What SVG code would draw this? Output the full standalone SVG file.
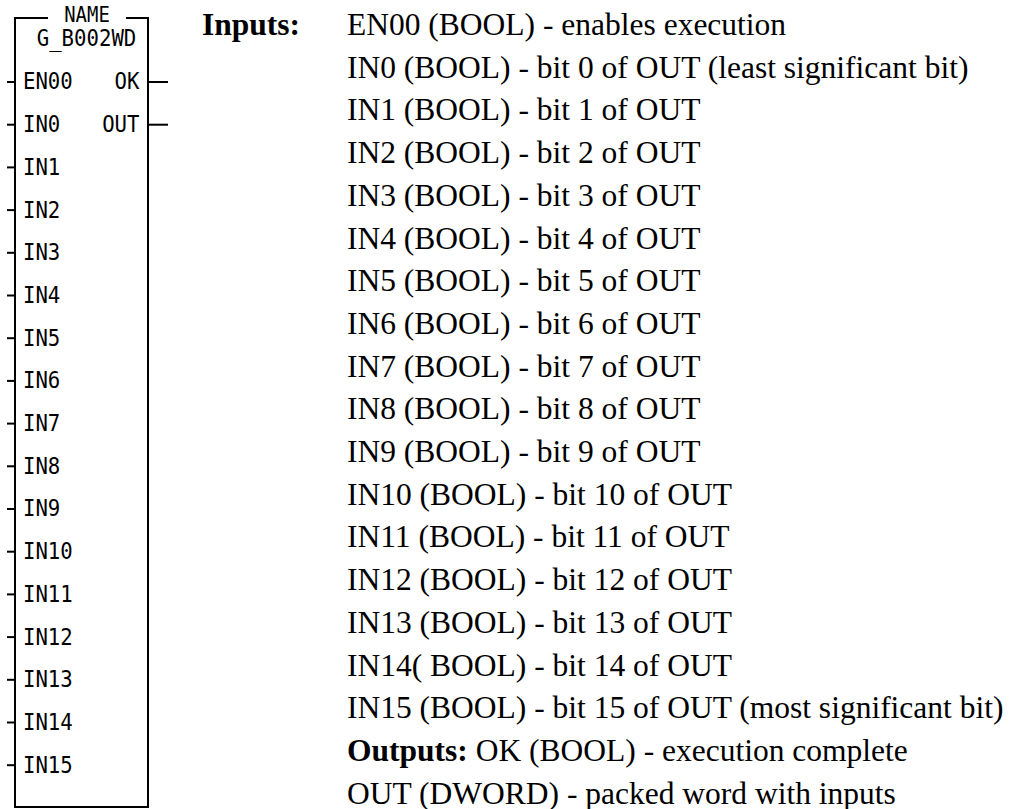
<svg xmlns="http://www.w3.org/2000/svg" width="1018" height="809" viewBox="0 0 1018 809">
  <style>
    .frame { fill: none; stroke: #000; stroke-width: 2; }
    .pin { stroke: #000; stroke-width: 2; }
    .mono { font-family: "DejaVu Sans Mono", "Liberation Mono", monospace; font-size: 23.5px; fill: #000; }
    .title { font-size: 21.5px; }
    .desc { font-family: "Liberation Serif", "Times New Roman", serif; font-size: 31.5px; fill: #000; }
    .bold { font-weight: bold; }
  </style>

  <!-- Function block G_B002WD; block labels are drawn narrowed to 88% width -->
  <g id="block-g_b002wd">
    <path class="frame" d="M48,18 H15 V807 H148 V18 H126"/>
    <g transform="scale(0.88,1)">
      <text class="mono title" x="98.9" y="22" text-anchor="middle">NAME</text>
      <text class="mono" x="98.3" y="46" text-anchor="middle">G_B002WD</text>
      <g id="inputs">
        <text class="mono" x="26.1" y="89.5">EN00</text>
        <text class="mono" x="26.1" y="132.2">IN0</text>
        <text class="mono" x="26.1" y="174.9">IN1</text>
        <text class="mono" x="26.1" y="217.6">IN2</text>
        <text class="mono" x="26.1" y="260.3">IN3</text>
        <text class="mono" x="26.1" y="303.0">IN4</text>
        <text class="mono" x="26.1" y="345.7">IN5</text>
        <text class="mono" x="26.1" y="388.4">IN6</text>
        <text class="mono" x="26.1" y="431.1">IN7</text>
        <text class="mono" x="26.1" y="473.8">IN8</text>
        <text class="mono" x="26.1" y="516.5">IN9</text>
        <text class="mono" x="26.1" y="559.2">IN10</text>
        <text class="mono" x="26.1" y="601.9">IN11</text>
        <text class="mono" x="26.1" y="644.6">IN12</text>
        <text class="mono" x="26.1" y="687.3">IN13</text>
        <text class="mono" x="26.1" y="730.0">IN14</text>
        <text class="mono" x="26.1" y="772.7">IN15</text>
      </g>
      <g id="outputs">
        <text class="mono" x="158.5" y="89.5" text-anchor="end">OK</text>
        <text class="mono" x="158.5" y="132.2" text-anchor="end">OUT</text>
      </g>
    </g>
  </g>

  <!-- Pin stubs -->
  <g id="connectors">
    <line class="pin" x1="7" y1="82" x2="15" y2="82"/>
    <line class="pin" x1="7" y1="124.7" x2="15" y2="124.7"/>
    <line class="pin" x1="7" y1="167.4" x2="15" y2="167.4"/>
    <line class="pin" x1="7" y1="210.1" x2="15" y2="210.1"/>
    <line class="pin" x1="7" y1="252.8" x2="15" y2="252.8"/>
    <line class="pin" x1="7" y1="295.5" x2="15" y2="295.5"/>
    <line class="pin" x1="7" y1="338.2" x2="15" y2="338.2"/>
    <line class="pin" x1="7" y1="380.9" x2="15" y2="380.9"/>
    <line class="pin" x1="7" y1="423.6" x2="15" y2="423.6"/>
    <line class="pin" x1="7" y1="466.3" x2="15" y2="466.3"/>
    <line class="pin" x1="7" y1="509.0" x2="15" y2="509.0"/>
    <line class="pin" x1="7" y1="551.7" x2="15" y2="551.7"/>
    <line class="pin" x1="7" y1="594.4" x2="15" y2="594.4"/>
    <line class="pin" x1="7" y1="637.1" x2="15" y2="637.1"/>
    <line class="pin" x1="7" y1="679.8" x2="15" y2="679.8"/>
    <line class="pin" x1="7" y1="722.5" x2="15" y2="722.5"/>
    <line class="pin" x1="7" y1="765.2" x2="15" y2="765.2"/>
    <line class="pin" x1="148" y1="82" x2="168" y2="82"/>
    <line class="pin" x1="148" y1="124.7" x2="168" y2="124.7"/>
  </g>

  <!-- Parameter description -->
  <g id="description">
    <text class="desc bold" x="202" y="35">Inputs:</text>
    <text class="desc" x="347" y="35">EN00 (BOOL) - enables execution</text>
    <text class="desc" x="347" y="77.7">IN0 (BOOL) - bit 0 of OUT (least significant bit)</text>
    <text class="desc" x="347" y="120.4">IN1 (BOOL) - bit 1 of OUT</text>
    <text class="desc" x="347" y="163.1">IN2 (BOOL) - bit 2 of OUT</text>
    <text class="desc" x="347" y="205.8">IN3 (BOOL) - bit 3 of OUT</text>
    <text class="desc" x="347" y="248.5">IN4 (BOOL) - bit 4 of OUT</text>
    <text class="desc" x="347" y="291.2">IN5 (BOOL) - bit 5 of OUT</text>
    <text class="desc" x="347" y="333.9">IN6 (BOOL) - bit 6 of OUT</text>
    <text class="desc" x="347" y="376.6">IN7 (BOOL) - bit 7 of OUT</text>
    <text class="desc" x="347" y="419.3">IN8 (BOOL) - bit 8 of OUT</text>
    <text class="desc" x="347" y="462.0">IN9 (BOOL) - bit 9 of OUT</text>
    <text class="desc" x="347" y="504.7">IN10 (BOOL) - bit 10 of OUT</text>
    <text class="desc" x="347" y="547.4">IN11 (BOOL) - bit 11 of OUT</text>
    <text class="desc" x="347" y="590.1">IN12 (BOOL) - bit 12 of OUT</text>
    <text class="desc" x="347" y="632.8">IN13 (BOOL) - bit 13 of OUT</text>
    <text class="desc" x="347" y="675.5">IN14( BOOL) - bit 14 of OUT</text>
    <text class="desc" x="347" y="718.2">IN15 (BOOL) - bit 15 of OUT (most significant bit)</text>
    <text class="desc" x="347" y="760.9"><tspan class="bold">Outputs:</tspan> OK (BOOL) - execution complete</text>
    <text class="desc" x="347" y="803.6">OUT (DWORD) - packed word with inputs</text>
  </g>
</svg>
